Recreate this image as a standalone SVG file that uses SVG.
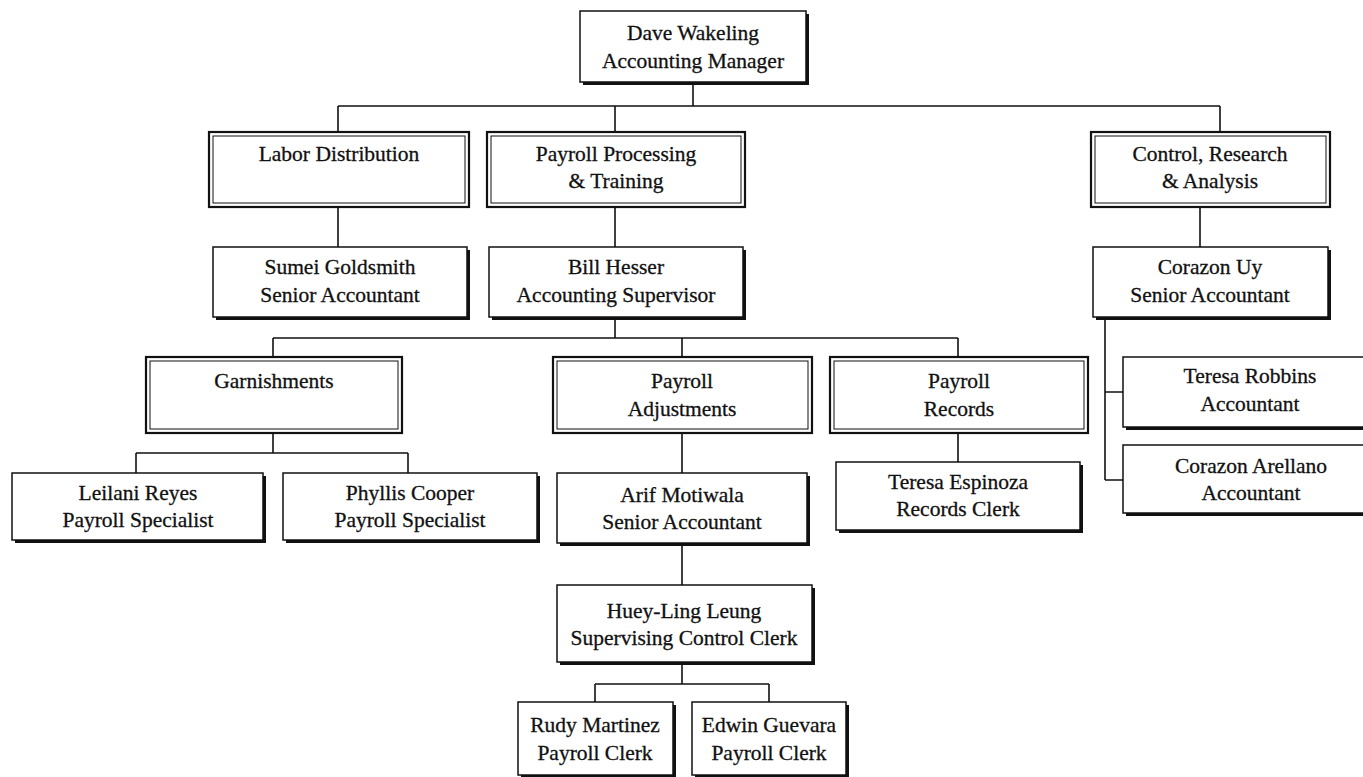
<svg xmlns="http://www.w3.org/2000/svg" width="1363" height="777" viewBox="0 0 1363 777">
<style>
text{font-family:"Liberation Serif","Times New Roman",serif;font-size:21.5px;fill:#111;stroke:#111;stroke-width:0.3;text-anchor:middle}
.sh{fill:#111}
.bx{fill:#fff;stroke:#111;stroke-width:1.5}
.ob{fill:#fff;stroke:#111;stroke-width:2.2}
.ib{fill:none;stroke:#111;stroke-width:1}
.ln{fill:none;stroke:#111;stroke-width:1.6}
</style>
<rect width="1363" height="777" fill="#fff"/>
<g id="connectors">
<path class="ln" d="M693 82V106M338 106H1220M338 106V132M615 106V132M1220 106V132"/>
<path class="ln" d="M338 207V247M615 207V247M1200 207V247"/>
<path class="ln" d="M615 317V338M273 338H958M273 338V357M682 338V357M958 338V357"/>
<path class="ln" d="M1105 317V480M1105 392H1123M1105 480H1123"/>
<path class="ln" d="M273 433V453M136 453H408M136 453V473M408 453V473"/>
<path class="ln" d="M682 433V473M958 433V462"/>
<path class="ln" d="M682 543V585M682 662V684M595 684H769M595 684V702M769 684V702"/>
</g>
<g id="dave">
<rect class="sh" x="583" y="14" width="226" height="71"/>
<rect class="bx" x="580" y="11" width="226" height="71"/>
<text x="693" y="40">Dave Wakeling</text><text x="693" y="68">Accounting Manager</text>
</g>
<g id="labor">
<rect class="ob" x="209" y="132" width="260" height="75"/>
<rect class="ib" x="213" y="136" width="252" height="67"/>
<text x="339" y="161">Labor Distribution</text>
</g>
<g id="payrollproc">
<rect class="ob" x="487" y="132" width="258" height="75"/>
<rect class="ib" x="491" y="136" width="250" height="67"/>
<text x="616" y="161">Payroll Processing</text><text x="616" y="188">&amp; Training</text>
</g>
<g id="control">
<rect class="ob" x="1091" y="132" width="239" height="75"/>
<rect class="ib" x="1095" y="136" width="231" height="67"/>
<text x="1210" y="161">Control, Research</text><text x="1210" y="188">&amp; Analysis</text>
</g>
<g id="sumei">
<rect class="sh" x="216" y="250" width="254" height="70"/>
<rect class="bx" x="213" y="247" width="254" height="70"/>
<text x="340" y="274">Sumei Goldsmith</text><text x="340" y="302">Senior Accountant</text>
</g>
<g id="bill">
<rect class="sh" x="492" y="250" width="254" height="70"/>
<rect class="bx" x="489" y="247" width="254" height="70"/>
<text x="616" y="274">Bill Hesser</text><text x="616" y="302">Accounting Supervisor</text>
</g>
<g id="corazonuy">
<rect class="sh" x="1096" y="250" width="235" height="70"/>
<rect class="bx" x="1093" y="247" width="235" height="70"/>
<text x="1210" y="274">Corazon Uy</text><text x="1210" y="302">Senior Accountant</text>
</g>
<g id="teresarobbins">
<rect class="sh" x="1126" y="360" width="252" height="70"/>
<rect class="bx" x="1123" y="357" width="252" height="70"/>
<text x="1250" y="383">Teresa Robbins</text><text x="1250" y="411">Accountant</text>
</g>
<g id="corazonarellano">
<rect class="sh" x="1126" y="448" width="252" height="68"/>
<rect class="bx" x="1123" y="445" width="252" height="68"/>
<text x="1251" y="473">Corazon Arellano</text><text x="1251" y="500">Accountant</text>
</g>
<g id="garnishments">
<rect class="ob" x="146" y="357" width="256" height="76"/>
<rect class="ib" x="150" y="361" width="248" height="68"/>
<text x="274" y="388">Garnishments</text>
</g>
<g id="adjustments">
<rect class="ob" x="553" y="357" width="259" height="76"/>
<rect class="ib" x="557" y="361" width="251" height="68"/>
<text x="682" y="388">Payroll</text><text x="682" y="416">Adjustments</text>
</g>
<g id="records">
<rect class="ob" x="830" y="357" width="258" height="76"/>
<rect class="ib" x="834" y="361" width="250" height="68"/>
<text x="959" y="388">Payroll</text><text x="959" y="416">Records</text>
</g>
<g id="leilani">
<rect class="sh" x="15" y="476" width="251" height="67"/>
<rect class="bx" x="12" y="473" width="251" height="67"/>
<text x="138" y="500">Leilani Reyes</text><text x="138" y="527">Payroll Specialist</text>
</g>
<g id="phyllis">
<rect class="sh" x="286" y="476" width="254" height="67"/>
<rect class="bx" x="283" y="473" width="254" height="67"/>
<text x="410" y="500">Phyllis Cooper</text><text x="410" y="527">Payroll Specialist</text>
</g>
<g id="arif">
<rect class="sh" x="560" y="476" width="250" height="70"/>
<rect class="bx" x="557" y="473" width="250" height="70"/>
<text x="682" y="502">Arif Motiwala</text><text x="682" y="529">Senior Accountant</text>
</g>
<g id="teresaespinoza">
<rect class="sh" x="839" y="465" width="244" height="68"/>
<rect class="bx" x="836" y="462" width="244" height="68"/>
<text x="958" y="489">Teresa Espinoza</text><text x="958" y="516">Records Clerk</text>
</g>
<g id="hueyling">
<rect class="sh" x="560" y="588" width="255" height="77"/>
<rect class="bx" x="557" y="585" width="255" height="77"/>
<text x="684" y="618">Huey-Ling Leung</text><text x="684" y="645">Supervising Control Clerk</text>
</g>
<g id="rudy">
<rect class="sh" x="521" y="705" width="155" height="73"/>
<rect class="bx" x="518" y="702" width="155" height="73"/>
<text x="595" y="732">Rudy Martinez</text><text x="595" y="760">Payroll Clerk</text>
</g>
<g id="edwin">
<rect class="sh" x="695" y="705" width="154" height="73"/>
<rect class="bx" x="692" y="702" width="154" height="73"/>
<text x="769" y="732">Edwin Guevara</text><text x="769" y="760">Payroll Clerk</text>
</g>
</svg>
